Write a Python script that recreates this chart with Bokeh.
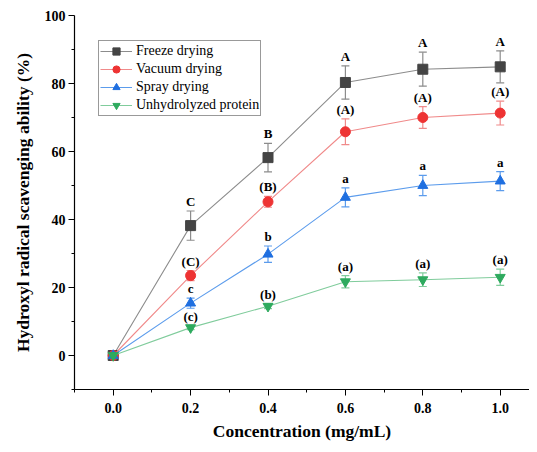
from bokeh.plotting import figure
from bokeh.models import ColumnDataSource, Whisker, LabelSet, Legend, LegendItem, Range1d, FixedTicker, CustomJSTickFormatter
from bokeh.embed import file_html
from bokeh.resources import INLINE

conc = [0.0, 0.2, 0.4, 0.6, 0.8, 1.0]
freeze = [0.0, 38.2, 58.2, 80.3, 84.2, 84.9]
freeze_err = [0.5, 4.3, 4.2, 4.9, 5.0, 4.7]
vacuum = [0.0, 23.5, 45.2, 65.8, 70.0, 71.3]
vacuum_err = [0.5, 1.5, 1.6, 3.8, 3.2, 3.5]
spray = [0.0, 15.4, 29.8, 46.5, 50.0, 51.3]
spray_err = [0.5, 1.5, 2.4, 2.8, 3.0, 2.8]
unhyd = [0.0, 8.2, 14.5, 21.7, 22.3, 23.0]
unhyd_err = [0.3, 0.6, 0.7, 1.8, 2.0, 2.4]

freeze_lbl = ["", "C", "B", "A", "A", "A"]
vacuum_lbl = ["", "(C)", "(B)", "(A)", "(A)", "(A)"]
spray_lbl = ["", "c", "b", "a", "a", "a"]
unhyd_lbl = ["", "(c)", "(b)", "(a)", "(a)", "(a)"]

x_ticks = [0.0, 0.2, 0.4, 0.6, 0.8, 1.0]
x_minor = [-0.1, 0.1, 0.3, 0.5, 0.7, 0.9]
y_ticks = [0, 20, 40, 60, 80, 100]
y_minor = [-10, 10, 30, 50, 70, 90]

series = [
    ("Freeze drying", freeze, freeze_err, freeze_lbl, "square", "#444444", "#8c8c8c"),
    ("Vacuum drying", vacuum, vacuum_err, vacuum_lbl, "circle", "#ee3333", "#f08a8a"),
    ("Spray drying", spray, spray_err, spray_lbl, "triangle", "#1f6fe0", "#5c9cec"),
    ("Unhydrolyzed protein", unhyd, unhyd_err, unhyd_lbl, "inverted_triangle", "#2eaa5e", "#80cc9c"),
]

FONT = "Liberation Serif"

p = figure(width=529, height=444, output_backend="svg", toolbar_location=None,
           x_range=Range1d(-0.1, 1.0757), y_range=Range1d(-10, 100),
           min_border_left=74, min_border_right=0, min_border_top=15, min_border_bottom=55)
p.outline_line_color = None
p.grid.visible = False
p.background_fill_color = "white"

p.xaxis.ticker = FixedTicker(ticks=x_ticks, minor_ticks=x_minor)
p.yaxis.ticker = FixedTicker(ticks=y_ticks, minor_ticks=y_minor)
p.xaxis.formatter = CustomJSTickFormatter(code="return tick.toFixed(1);")

for ax in (p.xaxis[0], p.yaxis[0]):
    ax.axis_line_color = "black"
    ax.axis_line_width = 1.2
    ax.major_tick_line_color = "black"
    ax.minor_tick_line_color = "black"
    ax.major_tick_out = 6
    ax.major_tick_in = 0
    ax.minor_tick_out = 3
    ax.minor_tick_in = 0
    ax.major_label_text_font = FONT
    ax.major_label_text_font_style = "bold"
    ax.major_label_text_font_size = "14px"
    ax.major_label_text_color = "black"
    ax.axis_label_text_font = FONT
    ax.axis_label_text_font_style = "bold"
    ax.axis_label_text_font_size = "17.5px"
    ax.axis_label_text_color = "black"

p.xaxis.axis_label = "Concentration (mg/mL)"
p.yaxis.axis_label = "Hydroxyl radical scavenging ability (%)"
p.xaxis.major_label_standoff = 7
p.xaxis.axis_label_standoff = 5
p.yaxis.major_label_standoff = 3
p.yaxis.axis_label_standoff = 9

items = []
for name, vals, errs, lbls, marker, mcol, lcol in series:
    src = ColumnDataSource(dict(
        x=conc, y=vals,
        upper=[v + e for v, e in zip(vals, errs)],
        lower=[v - e for v, e in zip(vals, errs)],
        lbl=lbls,
    ))
    ln = p.line("x", "y", source=src, line_color=lcol, line_width=1.1)
    w = Whisker(base="x", upper="upper", lower="lower", source=src,
                line_color=lcol, line_width=1.2)
    for h in (w.upper_head, w.lower_head):
        h.line_color = lcol
        h.size = 8
        h.line_width = 1.2
    p.add_layout(w)
    sc = p.scatter("x", "y", source=src, marker=marker, size=10,
                   fill_color=mcol, line_color=mcol)
    labels = LabelSet(x="x", y="upper", text="lbl", source=src, y_offset=2,
                      text_align="center", text_baseline="bottom",
                      text_font=FONT, text_font_style="bold",
                      text_font_size="13px", text_color="black")
    p.add_layout(labels)
    items.append(LegendItem(label=name, renderers=[ln, sc]))

legend = Legend(items=items, location=(24, 273))
legend.label_text_font = FONT
legend.label_text_font_size = "14px"
legend.label_text_color = "black"
legend.border_line_color = "#333333"
legend.border_line_width = 1
legend.glyph_width = 32
legend.glyph_height = 18
legend.label_height = 18
legend.spacing = 0
legend.padding = 1
legend.margin = 0
legend.label_standoff = 4
legend.background_fill_alpha = 1
p.add_layout(legend)

open("out.html", "w").write(file_html(p, INLINE))
